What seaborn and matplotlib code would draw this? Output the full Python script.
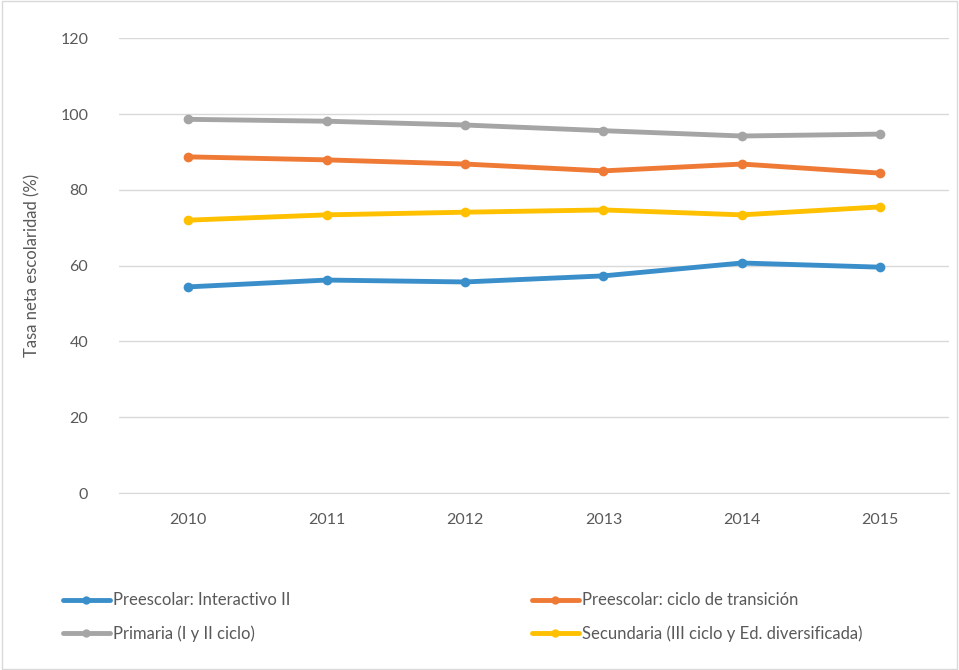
import matplotlib
matplotlib.use("Agg")
import matplotlib.pyplot as plt
import pandas as pd
import seaborn as sns

years = ["2010", "2011", "2012", "2013", "2014", "2015"]
series_names = [
    "Preescolar: Interactivo II",
    "Preescolar: ciclo de transición",
    "Primaria (I y II ciclo)",
    "Secundaria (III ciclo y Ed. diversificada)",
]
interactivo = [54.4, 56.2, 55.7, 57.3, 60.7, 59.6]
transicion = [88.7, 87.9, 86.8, 85.0, 86.8, 84.4]
primaria = [98.6, 98.1, 97.1, 95.6, 94.2, 94.7]
secundaria = [72.0, 73.4, 74.1, 74.7, 73.4, 75.5]
palette = ["#3A8FCB", "#EE7A35", "#A5A5A5", "#FFC000"]

df = pd.DataFrame({
    "year": years * 4,
    "serie": [s for s in series_names for _ in years],
    "valor": interactivo + transicion + primaria + secundaria,
})
df["x"] = df["year"].map({y: i for i, y in enumerate(years)})

sns.set_style("white")
plt.rcParams["font.family"] = ["Lato", "DejaVu Sans"]

fig = plt.figure(figsize=(9.59, 6.70), dpi=100)
ax = fig.add_axes([0.124, 0.264, 0.866, 0.679])

sns.lineplot(data=df, x="x", y="valor", hue="serie", hue_order=series_names,
             palette=palette, marker="o", markersize=7, markeredgewidth=0,
             linewidth=3.5, ax=ax, legend=False)

ax.set_xlim(-0.5, 5.5)
ax.set_ylim(0, 120)
ax.set_xticks(range(len(years)))
ax.set_xticklabels(years)
ax.set_yticks(range(0, 121, 20))
ax.yaxis.grid(True, color="#D9D9D9", linewidth=1)
ax.tick_params(axis="both", length=0, labelsize=11.5, colors="#595959", pad=14)
ax.tick_params(axis="y", pad=22)
ax.set_xlabel("")
ax.set_ylabel("Tasa neta escolaridad (%)", fontsize=12, color="#595959", labelpad=14)
for side in ["top", "left", "right"]:
    ax.spines[side].set_visible(False)
ax.spines["bottom"].set_color("#D9D9D9")

# legend is filled column by column, so order entries to read row by row
order = [0, 2, 1, 3]
handles = [plt.Line2D([], [], color=palette[i], linewidth=3.5, marker="o", markersize=6,
                      markeredgewidth=0) for i in order]
labels = [series_names[i] for i in order]
fig.legend(handles, labels, loc="lower left", bbox_to_anchor=(0.05, 0.02),
           ncol=2, frameon=False, fontsize=12, labelcolor="#595959",
           handlelength=2.8, handletextpad=0.2, columnspacing=14.5, labelspacing=1.0)

border = plt.Rectangle((0.002, 0.002), 0.996, 0.996, transform=fig.transFigure,
                       fill=False, edgecolor="#D9D9D9", linewidth=1)
fig.add_artist(border)

fig.savefig("out.png", dpi=100)
